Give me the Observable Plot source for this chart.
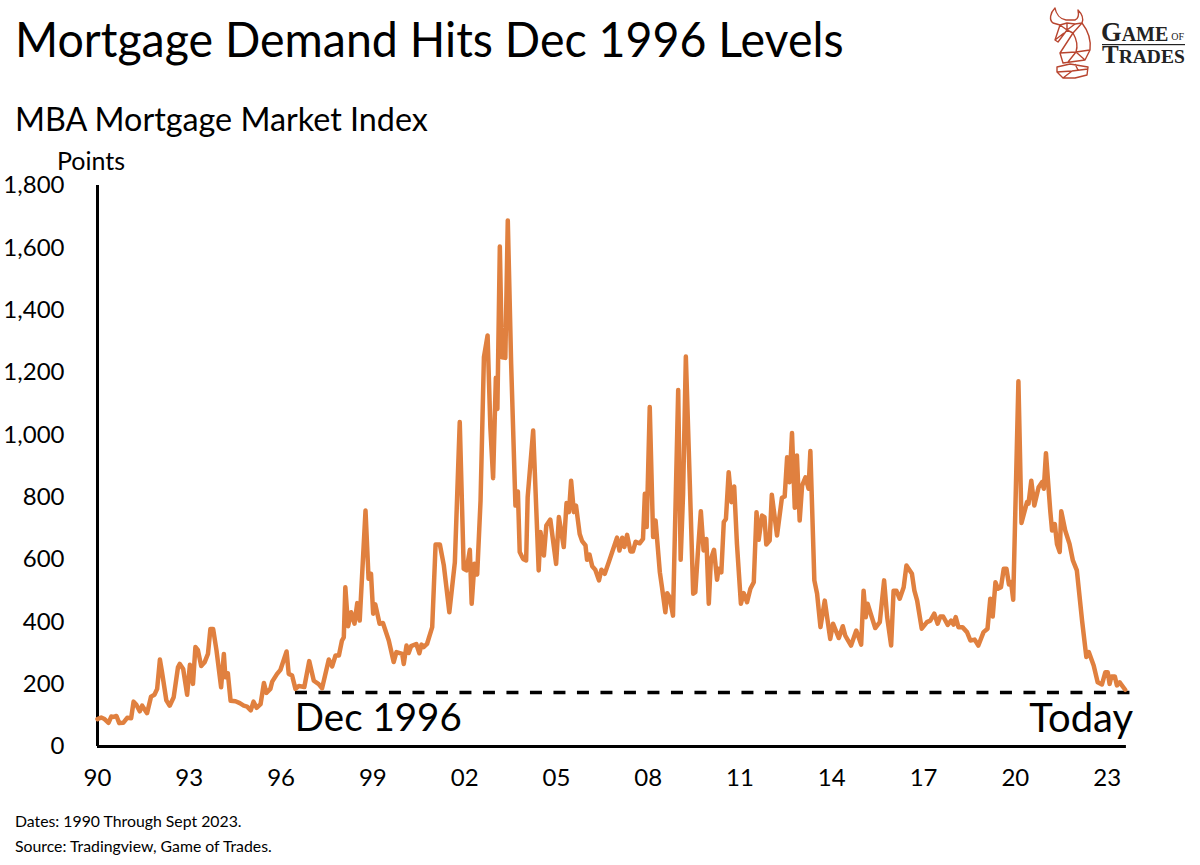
<!DOCTYPE html>
<html><head><meta charset="utf-8">
<script src="https://cdn.jsdelivr.net/npm/d3@7"></script>
<script src="https://cdn.jsdelivr.net/npm/@observablehq/plot@0.6"></script>
<style>
html,body{margin:0;padding:0;background:#fff;}
body{position:relative;width:1200px;height:865px;overflow:hidden;font-family:Lato,sans-serif;color:#000;}
.t{position:absolute;white-space:nowrap;line-height:1;z-index:2;}
#chart{position:absolute;left:0;top:150px;}
</style></head><body>
<div class="t" style="left:15px;top:14px;font-size:49px;transform:scaleX(.949);transform-origin:0 0;">Mortgage Demand Hits Dec 1996 Levels</div>
<div class="t" style="left:15px;top:103px;font-size:32.3px;">MBA Mortgage Market Index</div>
<div class="t" style="left:57px;top:148px;font-size:25px;">Points</div>
<div id="chart"></div>
<div class="t" style="left:15px;top:813px;font-size:15.8px;">Dates: 1990 Through Sept 2023.</div>
<div class="t" style="left:15px;top:838px;font-size:15.8px;">Source: Tradingview, Game of Trades.</div>
<svg style="position:absolute;left:1040px;top:0" width="160" height="85" viewBox="1040 0 160 85">
<g fill="none" stroke="#b8452f" stroke-width="1.4" stroke-linejoin="round">
<path d="M1055 8C1050 13 1049 20 1053 23L1060 25L1067 23L1075 24L1082 23C1084 18 1081 13 1078 10C1079 15 1078 19 1075 20L1066 20C1060 19 1056 14 1055 8Z"/>
<path d="M1060 25L1055 40L1058 42L1067 30L1067 23M1060 25L1067 30L1075 24M1055 40L1064 33M1067 30L1073 33L1082 23"/>
<path d="M1082 23C1089 32 1091 42 1090 50L1085 60L1063 63L1060 53L1073 33M1073 33C1077 40 1078 46 1076 52L1060 53M1076 52L1090 50M1076 52L1085 60M1068 62L1076 52"/>
<path d="M1057 67L1070 64L1088 67L1087 75L1075 78L1063 78L1057 72ZM1057 72L1072 71L1088 69M1063 78L1072 71M1075 64L1078 70"/>
</g>
<g fill="#222" font-family="'Liberation Serif',serif" font-weight="bold">
<text x="1101" y="41" font-size="26.5">G<tspan font-size="20">AME</tspan><tspan font-size="10" dx="3" dy="-1" font-weight="normal">OF</tspan></text>
<rect x="1102" y="44" width="83" height="1.2"/>
<text x="1102" y="63" font-size="25">T<tspan font-size="19.5">RADES</tspan></text>
</g>
</svg>
<script>
const years = [1990.00,1990.12,1990.23,1990.36,1990.45,1990.53,1990.62,1990.71,1990.84,1990.97,1991.10,1991.18,1991.27,1991.38,1991.46,1991.62,1991.75,1991.86,1991.95,1992.04,1992.11,1992.25,1992.36,1992.49,1992.63,1992.69,1992.80,1992.93,1993.02,1993.12,1993.20,1993.28,1993.39,1993.50,1993.61,1993.69,1993.78,1993.89,1994.04,1994.13,1994.18,1994.26,1994.35,1994.51,1994.65,1994.78,1994.89,1995.01,1995.10,1995.20,1995.33,1995.44,1995.52,1995.65,1995.71,1995.87,1995.98,1996.18,1996.25,1996.36,1996.47,1996.58,1996.76,1996.92,1997.07,1997.23,1997.34,1997.56,1997.67,1997.78,1997.89,1997.99,1998.05,1998.10,1998.19,1998.29,1998.40,1998.49,1998.57,1998.76,1998.86,1998.94,1999.01,1999.08,1999.22,1999.33,1999.52,1999.68,1999.77,1999.96,2000.01,2000.10,2000.17,2000.25,2000.42,2000.52,2000.59,2000.66,2000.77,2000.94,2001.05,2001.19,2001.32,2001.50,2001.68,2001.84,2001.97,2002.06,2002.17,2002.23,2002.32,2002.41,2002.52,2002.63,2002.75,2002.84,2002.93,2003.02,2003.07,2003.15,2003.22,2003.33,2003.41,2003.52,2003.66,2003.74,2003.80,2003.91,2004.01,2004.06,2004.24,2004.42,2004.48,2004.59,2004.67,2004.80,2004.99,2005.08,2005.24,2005.33,2005.41,2005.48,2005.57,2005.64,2005.76,2005.84,2005.95,2006.00,2006.08,2006.17,2006.27,2006.39,2006.47,2006.58,2006.71,2006.98,2007.06,2007.15,2007.22,2007.31,2007.42,2007.50,2007.59,2007.72,2007.83,2007.89,2007.95,2008.05,2008.16,2008.24,2008.38,2008.45,2008.56,2008.62,2008.70,2008.81,2008.98,2009.06,2009.14,2009.23,2009.36,2009.47,2009.54,2009.62,2009.72,2009.81,2009.90,2009.98,2010.05,2010.15,2010.25,2010.30,2010.39,2010.47,2010.54,2010.63,2010.72,2010.81,2010.90,2011.03,2011.12,2011.23,2011.34,2011.45,2011.54,2011.61,2011.72,2011.80,2011.86,2011.97,2012.04,2012.21,2012.37,2012.46,2012.54,2012.62,2012.70,2012.79,2012.86,2012.95,2013.03,2013.14,2013.24,2013.30,2013.43,2013.52,2013.63,2013.77,2013.95,2014.04,2014.23,2014.36,2014.44,2014.63,2014.80,2014.96,2015.04,2015.11,2015.17,2015.42,2015.57,2015.71,2015.81,2015.94,2016.02,2016.11,2016.22,2016.35,2016.44,2016.62,2016.70,2016.79,2016.94,2017.11,2017.22,2017.35,2017.46,2017.55,2017.64,2017.79,2017.90,2017.98,2018.05,2018.14,2018.27,2018.42,2018.53,2018.67,2018.79,2018.96,2019.09,2019.18,2019.26,2019.35,2019.43,2019.53,2019.62,2019.71,2019.79,2019.86,2019.93,2020.10,2020.20,2020.38,2020.43,2020.52,2020.62,2020.76,2020.87,2020.93,2021.00,2021.14,2021.20,2021.29,2021.36,2021.45,2021.50,2021.63,2021.77,2021.88,2022.01,2022.18,2022.32,2022.40,2022.56,2022.69,2022.83,2022.94,2023.02,2023.08,2023.14,2023.25,2023.32,2023.41,2023.59];
const index = [88,93,88,76,96,95,98,75,76,92,91,144,134,113,131,107,160,166,185,279,238,148,131,158,254,265,249,166,262,201,319,310,258,270,297,377,377,308,190,297,222,235,147,145,139,131,128,116,144,124,136,204,172,185,208,233,246,305,233,228,185,194,191,274,211,200,187,279,257,292,292,340,350,511,386,431,394,460,404,757,538,554,426,456,394,396,340,271,303,297,265,324,300,322,329,299,327,319,329,383,648,648,581,431,591,1041,570,565,631,458,586,552,789,1249,1319,1025,861,1183,1083,1604,1249,1247,1688,1228,773,818,624,602,597,800,1014,565,688,613,709,728,586,736,640,781,752,853,752,773,682,659,645,599,616,578,567,533,567,554,591,670,629,670,640,679,626,626,657,652,666,811,704,1089,672,725,559,511,431,492,479,420,1144,599,811,1251,843,490,495,618,755,629,666,458,602,631,535,570,559,720,730,880,784,834,650,458,492,463,506,527,752,663,741,736,648,661,808,677,798,802,928,848,1006,766,934,725,837,864,827,948,533,490,383,468,345,394,348,386,356,324,372,327,500,415,458,380,399,533,415,324,500,500,474,511,581,554,500,468,378,399,404,426,394,417,417,390,404,391,415,383,383,367,340,343,324,367,378,474,417,527,506,511,570,570,520,527,471,1172,717,784,779,853,773,832,848,827,941,757,693,714,650,624,755,693,650,597,565,404,287,303,260,206,199,238,238,201,225,225,196,206,182];
const xTicks = [1990,1993,1996,1999,2002,2005,2008,2011,2014,2017,2020,2023];
const yTicks = [0,200,400,600,800,1000,1200,1400,1600,1800];
const level = 173;
const color = "#E0803F";
const rows = years.map((year,i)=>({year,value:index[i]}));
const plot = Plot.plot({
  width:1200,height:660,marginTop:35,marginBottom:64,marginLeft:97,marginRight:75,
  style:{fontFamily:"Lato,sans-serif",background:"transparent",color:"#000",overflow:"visible"},
  x:{domain:[1990,2023.6],axis:null},
  y:{domain:[0,1800],axis:null},
  marks:[
    Plot.axisY({ticks:yTicks,tickSize:0,tickPadding:33,fontSize:24,tickFormat:d3.format(","),label:null,anchor:"left"}),
    Plot.axisX({ticks:xTicks,tickSize:0,tickPadding:22,fontSize:24,tickFormat:d=>String(d%100).padStart(2,"0"),label:null,anchor:"bottom"}),
    Plot.ruleX([1990],{stroke:"#000",strokeWidth:3,y1:0,y2:1800}),
    Plot.ruleY([0],{stroke:"#000",strokeWidth:3,x1:1990,x2:2023.63}),
    Plot.ruleY([level],{stroke:"#000",strokeWidth:3.5,strokeDasharray:"12,11.5",x1:1996.47,x2:2023.85}),
    Plot.line(rows,{x:"year",y:"value",stroke:color,strokeWidth:4.5,strokeLinejoin:"round",strokeLinecap:"round",curve:"linear"}),
    Plot.text(["Dec 1996"],{x:1996.45,y:88,textAnchor:"start",fontSize:38.5,fill:"#000"}),
    Plot.text(["Today"],{x:2023.85,y:88,textAnchor:"end",fontSize:40,fill:"#000"})
  ]
});
document.getElementById("chart").append(plot);
</script>
</body></html>
